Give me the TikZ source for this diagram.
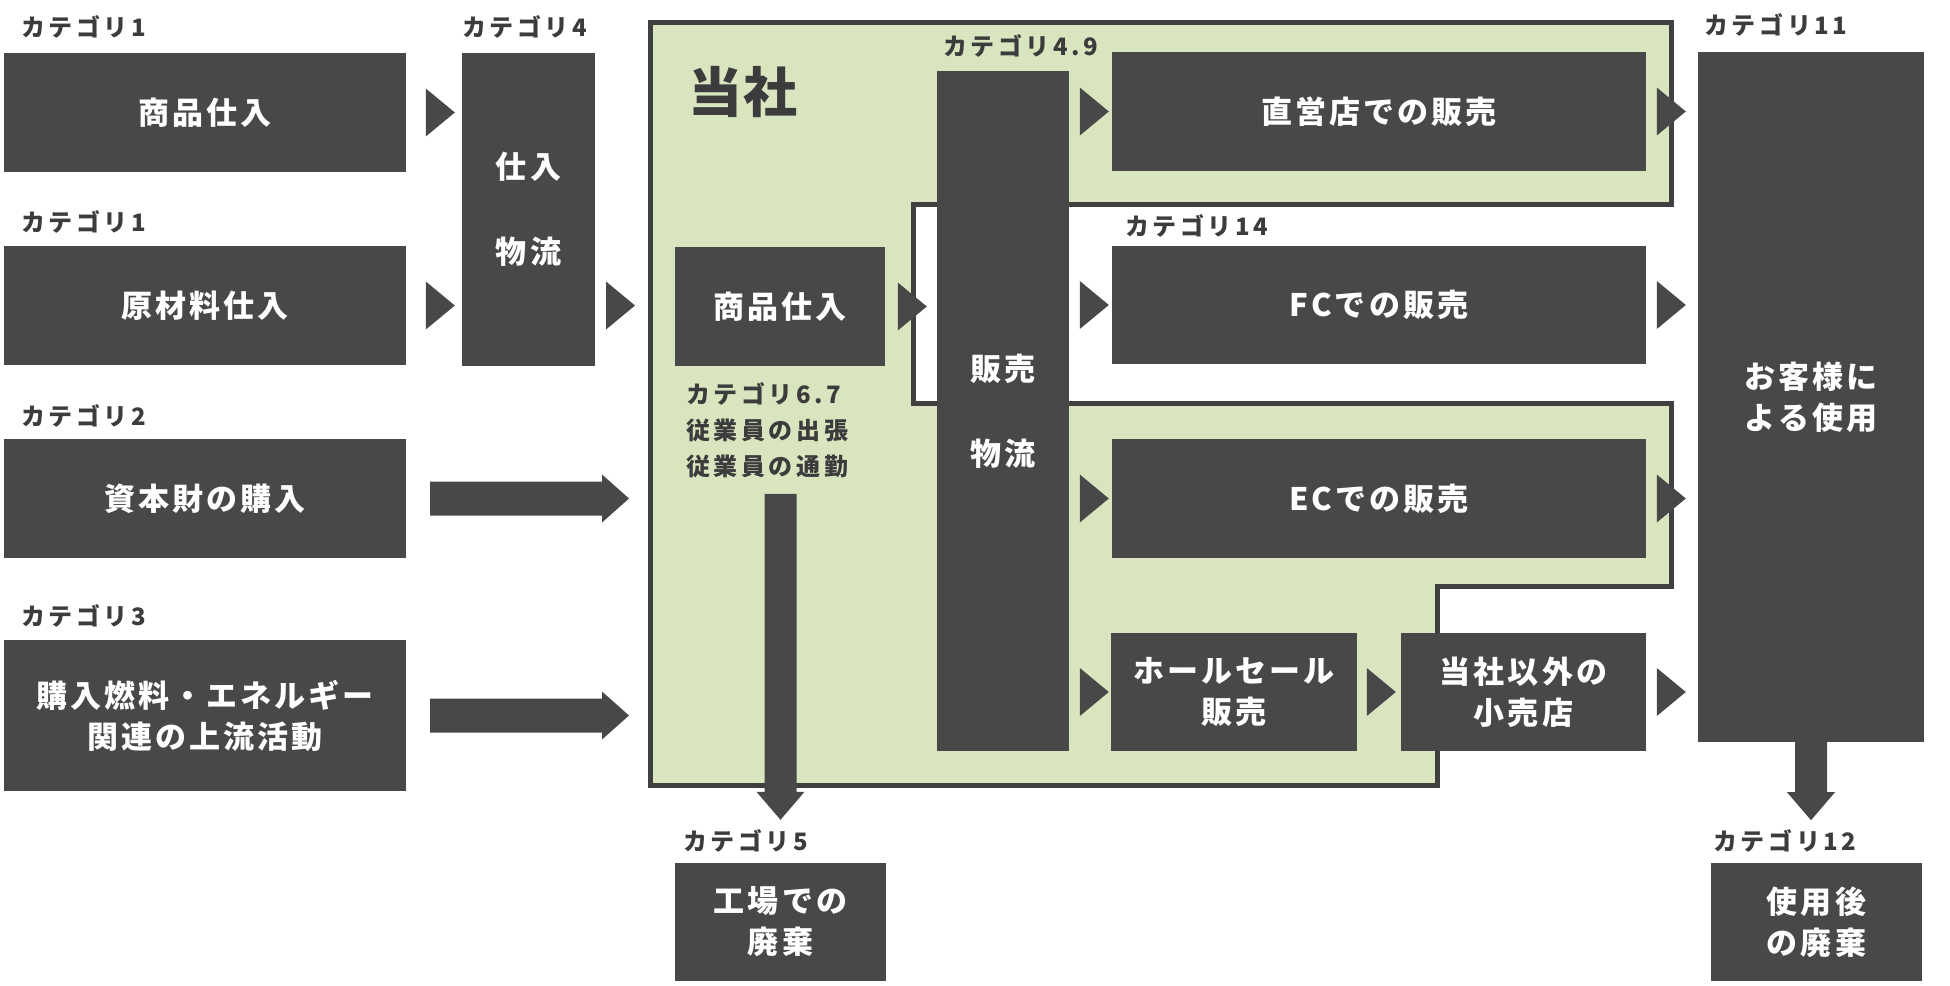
\documentclass[tikz,border=0pt]{standalone}
\usepackage{fontspec}
\newfontfamily\jpl{Noto Sans CJK JP}[LetterSpace=15]
\newfontfamily\jpb{Noto Sans CJK JP}[LetterSpace=10]
\newfontfamily\jpt{Noto Sans CJK JP}[LetterSpace=3]
\usetikzlibrary{calc}
\definecolor{dk}{RGB}{72,72,72}
\definecolor{bd}{RGB}{64,64,64}
\definecolor{labc}{RGB}{60,60,60}
\definecolor{grn}{RGB}{217,229,191}
\newcommand\tri[1]{\fill[dk] ($#1+(-29,-24)$) -- ($#1$) -- ($#1+(-29,24)$) -- cycle;}
\newcommand\harrow[2]{\fill[dk] ($(#1)+(0,-17)$) -- ($(#2)+(-27,-17)$) -- ($(#2)+(-27,-24)$) -- (#2) -- ($(#2)+(-27,24)$) -- ($(#2)+(-27,17)$) -- ($(#1)+(0,17)$) -- cycle;}
\newcommand\varrow[2]{\fill[dk] ($(#1)+(-16,0)$) -- ($(#2)+(-16,-28)$) -- ($(#2)+(-24,-28)$) -- (#2) -- ($(#2)+(24,-28)$) -- ($(#2)+(16,-28)$) -- ($(#1)+(16,0)$) -- cycle;}
% box from corners: [style]{name}{x1}{y1}{x2}{y2}{text}
\newcommand\bx[7][box]{%
  \pgfmathsetmacro\bxw{#5-#3}\pgfmathsetmacro\bxh{#6-#4}%
  \pgfmathsetmacro\bxx{(#3+#5)/2}\pgfmathsetmacro\bxy{(#4+#6)/2}%
  \node[#1, minimum width=\bxw pt, minimum height=\bxh pt] (#2) at (\bxx,\bxy) {#7};}
\begin{document}
\begin{tikzpicture}[x=1pt,y=-1pt,
  box/.style={fill=dk, text=white, inner sep=0pt, align=center, font=\jpb\bfseries\fontsize{31}{41}\selectfont},
  tallbox/.style={box, font=\jpb\bfseries\fontsize{31}{85}\selectfont},
  catlab/.style={anchor=west, inner sep=0pt, text=labc, align=left, font=\jpl\bfseries\fontsize{24}{36}\selectfont},
]
\useasboundingbox (0,0) rectangle (1950,985);
% company region
\coordinate (gl) at (650,22);
\filldraw[fill=grn, draw=bd, line width=5pt, line join=miter]
  (gl) -- (1671,22) -- (1671,204) -- (913,204) -- (913,403) -- (1671,403)
  -- (1671,586) -- (1437,586) -- (1437,785) -- (650,785) -- cycle;
\node[anchor=west, inner sep=0pt, text=labc, font=\jpt\bfseries\fontsize{54}{60}\selectfont] (tosha) at (688,92) {当社};
% upstream boxes
\bx{b1}{4}{53}{406}{172}{商品仕入}
\bx{b2}{4}{246}{406}{365}{原材料仕入}
\bx{b3}{4}{439}{406}{558}{資本財の購入}
\bx{b4}{4}{640}{406}{791}{購入燃料・エネルギー\\関連の上流活動}
\bx[tallbox]{b5}{462}{53}{595}{366}{仕入\\物流}
% company boxes
\bx{g}{675}{247}{885}{366}{商品仕入}
\bx[tallbox]{s}{937}{71}{1069}{751}{販売\\物流}
\bx{d}{1112}{52}{1646}{171}{直営店での販売}
\bx{fc}{1112}{246}{1646}{364}{FCでの販売}
\bx{ec}{1112}{439}{1646}{558}{ECでの販売}
\bx{ws}{1111}{633}{1357}{751}{ホールセール\\販売}
\bx{rt}{1401}{633}{1646}{751}{当社以外の\\小売店}
% downstream
\bx{cu}{1698}{52}{1924}{742}{お客様に\\よる使用}
\bx{w5}{675}{863}{886}{981}{工場での\\廃棄}
\bx{w12}{1711}{863}{1922}{981}{使用後\\の廃棄}
% labels
\node[catlab] (l1) at (21,27) {カテゴリ1};
\node[catlab] (l1b) at (21,222) {カテゴリ1};
\node[catlab] (l2) at (21,416) {カテゴリ2};
\node[catlab] (l3) at (21,616) {カテゴリ3};
\node[catlab] (l4) at (462,27) {カテゴリ4};
\node[catlab] (l49) at (943,46) {カテゴリ4.9};
\node[catlab] (l14) at (1125,226) {カテゴリ14};
\node[catlab] (l11) at (1704,25) {カテゴリ11};
\node[catlab] (l12) at (1713,841) {カテゴリ12};
\node[catlab] (l5) at (683,841) {カテゴリ5};
\node[catlab] (l67) at (686,430) {カテゴリ6.7\\従業員の出張\\従業員の通勤};
% triangle connectors
\tri{(b1.east -| b5.west)+(-7,0)}
\tri{(b2.east -| b5.west)+(-7,0)}
\tri{(b2.east -| gl)+(-15,0)}
\tri{(g.east -| s.west)+(-10,0)}
\tri{(d.west)+(-3,0)}
\tri{(fc.west)+(-3,0)}
\tri{(ec.west)+(-3,0)}
\tri{(ws.west)+(-2,0)}
\tri{(ws.east -| rt.west)+(-5,0)}
\tri{(d.east -| cu.west)+(-12,0)}
\tri{(fc.east -| cu.west)+(-12,0)}
\tri{(ec.east -| cu.west)+(-12,0)}
\tri{(rt.east -| cu.west)+(-12,0)}
% big arrows
\coordinate (h1s) at ($(b3.east)+(24,0)$);
\coordinate (h1t) at ($(b3.east -| gl)+(-21,0)$);
\coordinate (h2s) at ($(b4.east)+(24,0)$);
\coordinate (h2t) at ($(b4.east -| gl)+(-21,0)$);
\harrow{h1s}{h1t}
\harrow{h2s}{h2t}
\coordinate (v1s) at ($(l67.south -| w5.north)+(0,16)$);
\coordinate (v1t) at ($(w5.north)+(0,-43)$);
\varrow{v1s}{v1t}
\coordinate (v2t) at ($(cu.south)+(0,78)$);
\varrow{cu.south}{v2t}
\end{tikzpicture}
\end{document}
